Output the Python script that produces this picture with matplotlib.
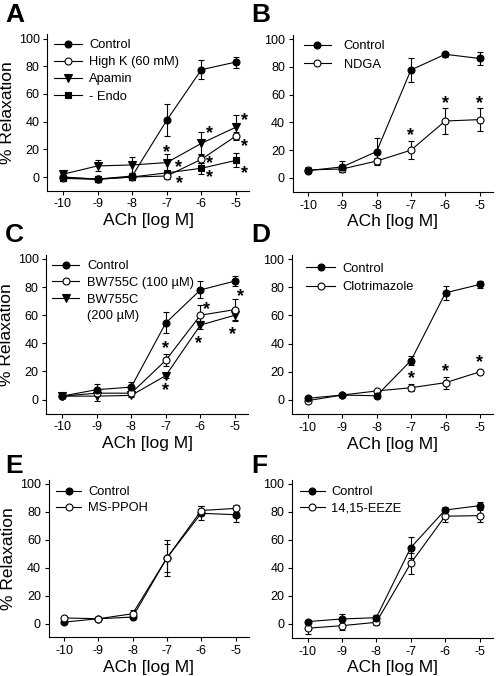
import matplotlib
matplotlib.use("Agg")
import matplotlib.pyplot as plt
from matplotlib.lines import Line2D
from matplotlib.transforms import offset_copy

plt.rcParams['font.family'] = ['Liberation Sans', 'DejaVu Sans']
plt.rcParams['axes.unicode_minus'] = False

# ---------------- data ----------------
conc = [-10, -9, -8, -7, -6, -5]
xticks = [-10, -9, -8, -7, -6, -5]
yticks = [0, 20, 40, 60, 80, 100]

# Panel A
ctrl_A = [0, -1.5, 0.7, 41, 77.5, 83]
ctrl_A_err = [3, 2, 2, 11.5, 7, 4]
highk_A = [-0.5, -1.5, 0, 0.7, 12.8, 29.6]
highk_A_err = [2, 2, 2, 2, 3, 3]
apamin_A = [2, 8, 8.7, 10.4, 24.3, 36]
apamin_A_err = [2, 4, 6, 6, 8, 8.5]
endo_A = [-1, -1.7, 0, 3, 6.3, 12]
endo_A_err = [2, 2, 2, 2, 4, 5]
stars_A_x = [-7, -6.67, -6.63, -5.78, -5.76, -5.76, -4.74, -4.74, -4.74]
stars_A_y = [20, 9.6, -2.4, 33.7, 12.3, 2.4, 43, 24.3, 5]

# Panel B
ctrl_B = [5.3, 8, 19, 77.7, 89, 86]
ctrl_B_err = [2, 4, 9.5, 8.5, 2, 5]
ndga_B = [5.8, 6.5, 12.2, 20, 41, 42]
ndga_B_err = [2, 2, 2, 6.5, 9.5, 8.5]
stars_B_x = [-7, -6, -5]
stars_B_y = [33, 56, 56]

# Panel C
ctrl_C = [2.4, 7, 8.8, 54.5, 78, 84.3]
ctrl_C_err = [1.5, 4, 3.6, 7.5, 6, 3.7]
bw100_C = [2.4, 4.5, 4.5, 27.9, 60, 64]
bw100_C_err = [1, 2, 2, 4.2, 7, 7.5]
bw200_C = [2.4, 2.4, 2.9, 17, 53, 60]
bw200_C_err = [1, 3.4, 1, 1.5, 3, 4]
stars_C_x = [-7.02, -7.0, -5.82, -6.05, -4.84, -5.06]
stars_C_y = [38.6, 8.8, 66.4, 42.6, 75.5, 49]

# Panel D
ctrl_D = [1.2, 3.5, 3, 28, 76, 82]
ctrl_D_err = [1, 1, 1.5, 3.5, 5, 2.5]
clot_D = [-0.5, 3.5, 6.4, 8.7, 12.3, 20]
clot_D_err = [1, 1, 1, 2.5, 4.2, 1.5]
stars_D_x = [-7, -6, -5]
stars_D_y = [17.7, 22.5, 29]

# Panel E
ctrl_E = [1, 3.4, 4.6, 47, 79, 78]
ctrl_E_err = [1, 1, 1.5, 13, 5, 5.5]
msppoh_E = [4, 3.4, 7, 47, 81, 82.5]
msppoh_E_err = [1, 1.5, 3, 10, 3, 2.5]

# Panel F
ctrl_F = [1.7, 3.6, 4.5, 54.5, 81.4, 84.5]
ctrl_F_err = [1, 3.4, 2, 7.5, 2.5, 3]
eeze_F = [-3, -1.2, 1.2, 43.3, 77, 77.4]
eeze_F_err = [4, 3, 2, 7.5, 4, 4.5]

# ---------------- layout ----------------
W, H = 496, 676
fig = plt.figure(figsize=(W / 100, H / 100), dpi=100)

XLIM = (-10.45, -4.62)
YLIM = (-10, 103)


def make_axes(x_m10, x_m5, y0, y100):
    sx = (x_m5 - x_m10) / 5.0
    sy = (y0 - y100) / 100.0
    left = x_m10 + (XLIM[0] + 10) * sx
    right = x_m5 + (XLIM[1] + 5) * sx
    bottom = y0 - YLIM[0] * sy
    top = y0 - YLIM[1] * sy
    ax = fig.add_axes([left / W, (H - bottom) / H, (right - left) / W, (bottom - top) / H])
    ax.set_xlim(*XLIM)
    ax.set_ylim(*YLIM)
    ax.set_xticks(xticks)
    ax.set_yticks(yticks)
    ax.spines['top'].set_visible(False)
    ax.spines['right'].set_visible(False)
    for s in ('left', 'bottom'):
        ax.spines[s].set_linewidth(0.8)
    ax.tick_params(direction='out', length=3, width=0.8, pad=2.5, labelsize=9)
    ax.set_xlabel('ACh [log M]', fontsize=12.5, labelpad=2)
    return ax


axA = make_axes(63, 236, 177, 38.5)
axB = make_axes(308, 479.5, 178, 39)
axC = make_axes(62, 235, 399.5, 259)
axD = make_axes(307.5, 480, 400, 259)
axE = make_axes(64, 235.5, 623.5, 484)
axF = make_axes(307.5, 479.5, 624, 484)

for ax in (axA, axC, axE):
    ax.set_ylabel('% Relaxation', fontsize=12.5, labelpad=3)


def series(ax, y, err, marker, filled, ms=5, label=None):
    ax.errorbar(conc, y, yerr=err, color='black', lw=0.8, elinewidth=0.8,
                capsize=2, capthick=0.8, marker=marker, ms=ms,
                mfc='black' if filled else 'white', mec='black', mew=0.8,
                label=label, zorder=3)


def stars(ax, xs, ys):
    tr = offset_copy(ax.transData, fig=fig, x=0, y=-3.5, units='dots')
    for xx, yy in zip(xs, ys):
        ax.text(xx, yy, '*', transform=tr, ha='center', va='center',
                fontsize=13, fontweight='bold')


def legend(ax, handles, labels, x, y, hl=2.1, htp=0.6, ls=0.2):
    ax.legend(handles, labels, loc='upper left', bbox_to_anchor=(x, y),
              frameon=False, fontsize=9.3, handlelength=hl, handletextpad=htp,
              labelspacing=ls, borderpad=0, borderaxespad=0)


def h(marker, filled, ms=5):
    return Line2D([], [], color='black', lw=0.8, marker=marker, ms=ms,
                  mfc='black' if filled else 'white', mec='black', mew=0.8)


# Panel A
series(axA, endo_A, endo_A_err, 's', True, ms=4.5)
series(axA, apamin_A, apamin_A_err, 'v', True, ms=5.5)
series(axA, highk_A, highk_A_err, 'o', False)
series(axA, ctrl_A, ctrl_A_err, 'o', True)
stars(axA, stars_A_x, stars_A_y)
legend(axA, [h('o', True), h('o', False), h('v', True, 5.5), h('s', True, 4.5)],
       ['Control', 'High K (60 mM)', 'Apamin', '- Endo'], 0.035, 0.97, ls=0.4)

# Panel B
series(axB, ndga_B, ndga_B_err, 'o', False)
series(axB, ctrl_B, ctrl_B_err, 'o', True)
stars(axB, stars_B_x, stars_B_y)
legend(axB, [h('o', True), h('o', False)], ['Control', 'NDGA'], 0.055, 0.965,
       hl=2.1, htp=1.0, ls=0.5)

# Panel C
series(axC, bw200_C, bw200_C_err, 'v', True, ms=5.5)
series(axC, bw100_C, bw100_C_err, 'o', False)
series(axC, ctrl_C, ctrl_C_err, 'o', True)
stars(axC, stars_C_x, stars_C_y)
legend(axC, [h('o', True), h('o', False), h('v', True, 5.5), Line2D([], [], ls='none')],
       ['Control', 'BW755C (100 µM)', 'BW755C', '(200 µM)'], 0.028, 0.965, ls=0.35)

# Panel D
series(axD, clot_D, clot_D_err, 'o', False)
series(axD, ctrl_D, ctrl_D_err, 'o', True)
stars(axD, stars_D_x, stars_D_y)
legend(axD, [h('o', True), h('o', False)], ['Control', 'Clotrimazole'], 0.07, 0.95,
       hl=2.25, htp=0.55, ls=0.5)

# Panel E
series(axE, ctrl_E, ctrl_E_err, 'o', True)
series(axE, msppoh_E, msppoh_E_err, 'o', False)
legend(axE, [h('o', True), h('o', False)], ['Control', 'MS-PPOH'], 0.038, 0.96,
       hl=1.95, htp=0.55, ls=0.3)

# Panel F
series(axF, eeze_F, eeze_F_err, 'o', False)
series(axF, ctrl_F, ctrl_F_err, 'o', True)
legend(axF, [h('o', True), h('o', False)], ['Control', '14,15-EEZE'], 0.038, 0.96,
       hl=1.95, htp=0.5, ls=0.3)

# Panel letters
for letter, px, py in [('A', 5, 22), ('B', 251, 22), ('C', 5, 242),
                       ('D', 251, 242), ('E', 5, 473), ('F', 251, 473)]:
    fig.text(px / W, (H - py) / H, letter, fontsize=19, fontweight='bold',
             ha='left', va='baseline')

fig.savefig('out.png', dpi=100)
